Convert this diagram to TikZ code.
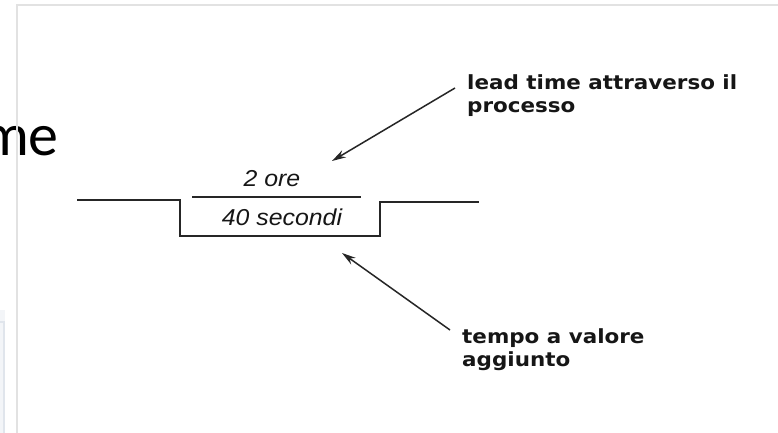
\documentclass[tikz,border=0pt]{standalone}
\usepackage{fontspec}
\setmainfont{Liberation Sans}
\newfontfamily\slidefont{Carlito}
\newfontfamily\labelfont[FakeStretch=1.1]{DejaVu Sans}
\newfontfamily\fracfont[FakeStretch=1.08]{Liberation Sans}
\usetikzlibrary{arrows.meta}
\definecolor{ink}{HTML}{161616}
\definecolor{lineink}{HTML}{262626}
\definecolor{framegray}{HTML}{E2E2E2}
\definecolor{boxfill}{HTML}{F3F5F8}
\definecolor{boxedge}{HTML}{E0E5EC}
\tikzset{
  stepline/.style={draw=lineink, line width=1.5pt, line join=miter},
  arr/.style={draw=lineink, line width=1.5pt, -{Stealth[length=14pt,width=8pt]}},
  lbl/.style={inner sep=0pt, align=left, text=ink, font=\labelfont\bfseries\fontsize{19.5}{23}\selectfont},
  frac/.style={inner sep=0pt, text=ink, font=\fracfont\itshape\fontsize{23}{27}\selectfont},
  slide/.style={inner sep=0pt, text=black, font=\slidefont\fontsize{60}{72}\selectfont},
  frame/.style={draw=framegray, line width=2pt},
}
\begin{document}
\begin{tikzpicture}[x=1pt,y=-1pt]
\useasboundingbox (0,0) rectangle (778,433);
\clip (0,0) rectangle (778,433);
\fill[white] (0,0) rectangle (778,433);
% lower-left light box (clipped)
\fill[boxfill] (-2,310) rectangle (5,436);
\draw[boxedge, line width=1.5pt] (-2,322) -- (4,322) -- (4,436);
% clipped slide title
\node[slide, anchor=base east] (title) at (59,155) {me};
% picture frame
\draw[frame] (17,436) -- (17,5) -- (781,5);
% process step shape
\draw[stepline] (77,200) -- (180,200) -- (180,236) -- (380,236) -- (380,202) -- (479,202);
% fraction bar
\draw[stepline] (192,197) -- (361,197);
% values
\node[frac, anchor=base] (ore) at (272,186) {2 ore};
\node[frac, anchor=base] (sec) at (282,225) {40 secondi};
% labels
\node[lbl, anchor=north west] (lead) at (467,74) {lead time attraverso il\\processo};
\node[lbl, anchor=north west] (vat) at (462,328) {tempo a valore\\aggiunto};
% arrows
\coordinate (a1s) at (455,88);
\coordinate (a1e) at (332,161);
\coordinate (a2s) at (450,330);
\coordinate (a2e) at (342,253);
\draw[arr] (a1s) -- (a1e);
\draw[arr] (a2s) -- (a2e);
\end{tikzpicture}
\end{document}
